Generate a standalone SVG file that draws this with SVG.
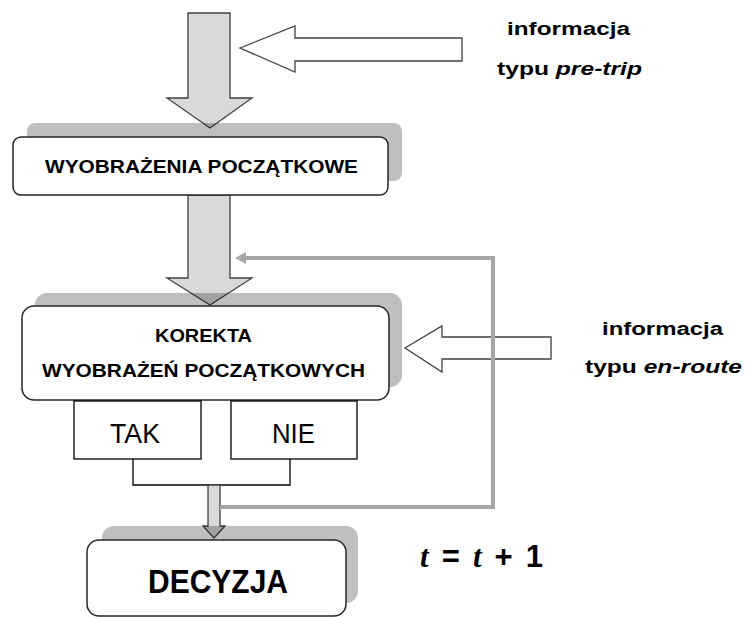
<svg xmlns="http://www.w3.org/2000/svg" width="745" height="617" viewBox="0 0 745 617">
<style>
.bg{fill:#ffffff}
.big{fill:#d9d9d9;stroke:#404040;stroke-width:1.3;stroke-linejoin:miter}
.hollow{fill:#ffffff;stroke:#404040;stroke-width:1.3}
.fb{fill:none;stroke:#a6a6a6;stroke-width:4}
.shadow{fill:#000000;fill-opacity:0.25}
.box{fill:#ffffff;stroke:#262626;stroke-width:1.5}
.sq{fill:#ffffff;stroke:#000000;stroke-width:1.3}
.t{font-family:"Liberation Sans",Arial,sans-serif;fill:#000000}
.b{font-weight:bold}
</style>
<rect class="bg" width="745" height="617"/>
<g id="connectors">
  <polygon class="big" points="188,13 230,13 230,98 252,98 210,128 167,98 188,98"/>
  <polygon class="hollow" points="240,48 295,26 295,38 462,38 462,61 295,61 295,72"/>
  <polygon class="big" points="188,195 230,195 230,278 252,278 210,305 167,278 188,278"/>
  <polygon class="hollow" points="405,348 442,326 442,337 551,337 551,359 442,359 442,372"/>
  <polyline class="sq" points="133,459 133,485 290,485 290,459" style="fill:none"/>
  <polygon class="big" points="208,485 220,485 220,526 225,526 214,538 203,526 208,526"/>
  <polyline class="fb" points="220,507 493,507 493,258 244,258"/>
  <polygon fill="#a6a6a6" points="235,258 246,252 246,264"/>
</g>
<g id="node-wyobrazenia">
  <rect class="shadow" x="27" y="123" width="375" height="58" rx="8"/>
  <rect class="box" x="13" y="137" width="375" height="58" rx="8"/>
  <text class="t b" x="201.5" y="173" font-size="19" text-anchor="middle" textLength="313" lengthAdjust="spacingAndGlyphs">WYOBRAŻENIA POCZĄTKOWE</text>
</g>
<g id="node-korekta">
  <rect class="shadow" x="35" y="293" width="367" height="94" rx="12"/>
  <rect class="box" x="22" y="306" width="367" height="94" rx="12"/>
  <text class="t b" x="203.5" y="342" font-size="19" text-anchor="middle" textLength="97" lengthAdjust="spacingAndGlyphs">KOREKTA</text>
  <text class="t b" x="203.5" y="377" font-size="19" text-anchor="middle" textLength="323" lengthAdjust="spacingAndGlyphs">WYOBRAŻEŃ POCZĄTKOWYCH</text>
</g>
<g id="node-tak">
  <rect class="sq" x="74" y="401" width="127" height="58"/>
  <text class="t" x="135" y="443" font-size="28" text-anchor="middle" textLength="50" lengthAdjust="spacingAndGlyphs">TAK</text>
</g>
<g id="node-nie">
  <rect class="sq" x="231" y="401" width="126" height="58"/>
  <text class="t" x="293.5" y="443" font-size="28" text-anchor="middle" textLength="43" lengthAdjust="spacingAndGlyphs">NIE</text>
</g>
<g id="node-decyzja">
  <rect class="shadow" x="102" y="526" width="256" height="77" rx="12"/>
  <rect class="box" x="87" y="540" width="259" height="76" rx="12"/>
  <text class="t b" x="218" y="593" font-size="34" text-anchor="middle" textLength="140" lengthAdjust="spacingAndGlyphs">DECYZJA</text>
</g>
<g id="label-pretrip">
  <text class="t b" x="568.5" y="35" font-size="18" text-anchor="middle" textLength="123" lengthAdjust="spacingAndGlyphs">informacja</text>
  <text class="t b" x="569.5" y="75" font-size="18" text-anchor="middle" textLength="145" lengthAdjust="spacingAndGlyphs">typu <tspan font-style="italic">pre-trip</tspan></text>
</g>
<g id="label-enroute">
  <text class="t b" x="662.5" y="335" font-size="18" text-anchor="middle" textLength="121" lengthAdjust="spacingAndGlyphs">informacja</text>
  <text class="t b" x="663.5" y="373" font-size="18" text-anchor="middle" textLength="157" lengthAdjust="spacingAndGlyphs">typu <tspan font-style="italic">en-route</tspan></text>
</g>
<g id="label-t">
  <text x="420" y="567" font-size="31" font-weight="bold" fill="#000000" font-family="Liberation Sans, Arial, sans-serif" textLength="123" lengthAdjust="spacing"><tspan font-family="Liberation Serif, Times New Roman, serif" font-style="italic">t</tspan> = <tspan font-family="Liberation Serif, Times New Roman, serif" font-style="italic">t</tspan> + 1</text>
</g>
</svg>
